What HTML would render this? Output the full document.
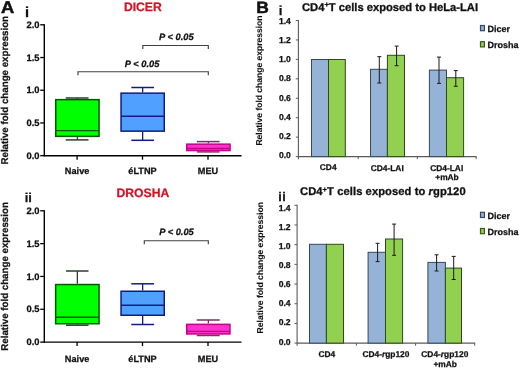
<!DOCTYPE html>
<html><head><meta charset="utf-8"><style>
html,body{margin:0;padding:0;background:#fff;}
svg{display:block;will-change:transform;}
text{font-family:"Liberation Sans", sans-serif;text-rendering:geometricPrecision;}
</style></head><body>
<svg width="520" height="369" viewBox="0 0 520 369">
<rect width="520" height="369" fill="#fff"/>
<text x="0" y="12.9" font-size="17.0" font-weight="bold" fill="#111" stroke="#111" stroke-width="0.5" transform="translate(0.9,0) scale(1.08,1)">A</text>
<text x="25.0" y="16.6" font-size="14.6" text-anchor="start" font-weight="bold" font-style="normal" fill="#111" stroke="#111" stroke-width="0.25" >i</text>
<text x="142.85" y="11.4" font-size="12.2" text-anchor="middle" font-weight="bold" font-style="normal" fill="#d21426" stroke="#d21426" stroke-width="0.25" >DICER</text>
<text transform="translate(7.6,90.25) rotate(-90)" font-size="9.9" font-weight="bold" text-anchor="middle" fill="#111" stroke="#111" stroke-width="0.25" textLength="148.6" lengthAdjust="spacingAndGlyphs">Relative fold change expression</text>
<line x1="44.3" y1="24.2" x2="44.3" y2="156.3" stroke="#000" stroke-width="1.4"/>
<line x1="43.7" y1="155.7" x2="241.5" y2="155.7" stroke="#000" stroke-width="1.4"/>
<line x1="40.2" y1="155.7" x2="44.3" y2="155.7" stroke="#000" stroke-width="1.3"/>
<text x="39.6" y="158.9" font-size="9.4" text-anchor="end" font-weight="bold" font-style="normal" fill="#111" stroke="#111" stroke-width="0.25" >0.0</text>
<line x1="40.2" y1="122.97" x2="44.3" y2="122.97" stroke="#000" stroke-width="1.3"/>
<text x="39.6" y="126.17" font-size="9.4" text-anchor="end" font-weight="bold" font-style="normal" fill="#111" stroke="#111" stroke-width="0.25" >0.5</text>
<line x1="40.2" y1="90.25" x2="44.3" y2="90.25" stroke="#000" stroke-width="1.3"/>
<text x="39.6" y="93.45" font-size="9.4" text-anchor="end" font-weight="bold" font-style="normal" fill="#111" stroke="#111" stroke-width="0.25" >1.0</text>
<line x1="40.2" y1="57.53" x2="44.3" y2="57.53" stroke="#000" stroke-width="1.3"/>
<text x="39.6" y="60.73" font-size="9.4" text-anchor="end" font-weight="bold" font-style="normal" fill="#111" stroke="#111" stroke-width="0.25" >1.5</text>
<line x1="40.2" y1="24.8" x2="44.3" y2="24.8" stroke="#000" stroke-width="1.3"/>
<text x="39.6" y="28.0" font-size="9.4" text-anchor="end" font-weight="bold" font-style="normal" fill="#111" stroke="#111" stroke-width="0.25" >2.0</text>
<line x1="77.1" y1="155.7" x2="77.1" y2="159.7" stroke="#000" stroke-width="1.3"/>
<text x="77.1" y="174.4" font-size="9.2" text-anchor="middle" font-weight="bold" font-style="normal" fill="#111" stroke="#111" stroke-width="0.25" >Naive</text>
<line x1="142.5" y1="155.7" x2="142.5" y2="159.7" stroke="#000" stroke-width="1.3"/>
<text x="142.5" y="174.4" font-size="9.2" text-anchor="middle" font-weight="bold" font-style="normal" fill="#111" stroke="#111" stroke-width="0.25" >éLTNP</text>
<line x1="208.0" y1="155.7" x2="208.0" y2="159.7" stroke="#000" stroke-width="1.3"/>
<text x="208.0" y="174.4" font-size="9.2" text-anchor="middle" font-weight="bold" font-style="normal" fill="#111" stroke="#111" stroke-width="0.25" >MEU</text>
<line x1="77.4" y1="98.0" x2="77.4" y2="98.9" stroke="#2c3f2c" stroke-width="1.3"/>
<line x1="77.4" y1="137.1" x2="77.4" y2="139.9" stroke="#2c3f2c" stroke-width="1.3"/>
<line x1="65.7" y1="98.0" x2="88.5" y2="98.0" stroke="#2c3f2c" stroke-width="1.5"/>
<line x1="65.7" y1="139.9" x2="88.5" y2="139.9" stroke="#2c3f2c" stroke-width="1.5"/>
<rect x="55.75" y="99.65" width="43.3" height="36.7" fill="#00ff00" stroke="#005a00" stroke-width="1.5"/>
<line x1="55.75" y1="130.6" x2="99.05" y2="130.6" stroke="#005a00" stroke-width="1.4"/>
<line x1="142.65" y1="87.5" x2="142.65" y2="92.4" stroke="#121c80" stroke-width="1.3"/>
<line x1="142.65" y1="131.9" x2="142.65" y2="140.3" stroke="#121c80" stroke-width="1.3"/>
<line x1="131.3" y1="87.5" x2="154.0" y2="87.5" stroke="#121c80" stroke-width="1.5"/>
<line x1="131.3" y1="140.3" x2="154.0" y2="140.3" stroke="#121c80" stroke-width="1.5"/>
<rect x="121.05" y="93.15" width="43.2" height="38.0" fill="#50a0ff" stroke="#121c80" stroke-width="1.5"/>
<line x1="121.05" y1="116.3" x2="164.25" y2="116.3" stroke="#121c80" stroke-width="1.4"/>
<line x1="208.4" y1="141.6" x2="208.4" y2="143.4" stroke="#8a2a60" stroke-width="1.3"/>
<line x1="208.4" y1="151.3" x2="208.4" y2="151.9" stroke="#8a2a60" stroke-width="1.3"/>
<line x1="196.9" y1="141.6" x2="219.6" y2="141.6" stroke="#8a2a60" stroke-width="1.5"/>
<line x1="196.9" y1="151.9" x2="219.6" y2="151.9" stroke="#8a2a60" stroke-width="1.5"/>
<rect x="186.75" y="144.15" width="43.3" height="6.4" fill="#ff33cc" stroke="#c8008c" stroke-width="1.5"/>
<line x1="186.75" y1="148.5" x2="230.05" y2="148.5" stroke="#c8008c" stroke-width="1.4"/>
<path d="M142.8,49.050000000000004 V45.45 H208.3 V49.050000000000004" fill="none" stroke="#404040" stroke-width="1.15"/>
<text x="176.3" y="40.2" font-size="9.3" text-anchor="middle" font-weight="bold" font-style="italic" fill="#111" stroke="#111" stroke-width="0.25" >P &lt; 0.05</text>
<path d="M78.0,75.3 V71.7 H208.3 V75.3" fill="none" stroke="#404040" stroke-width="1.15"/>
<text x="142.1" y="66.5" font-size="9.3" text-anchor="middle" font-weight="bold" font-style="italic" fill="#111" stroke="#111" stroke-width="0.25" >P &lt; 0.05</text>
<text x="24.7" y="202.4" font-size="12.9" text-anchor="start" font-weight="bold" font-style="normal" fill="#111" stroke="#111" stroke-width="0.25" >ii</text>
<text x="142.85" y="196.7" font-size="12.2" text-anchor="middle" font-weight="bold" font-style="normal" fill="#d21426" stroke="#d21426" stroke-width="0.25" >DROSHA</text>
<text transform="translate(7.6,276.45) rotate(-90)" font-size="9.9" font-weight="bold" text-anchor="middle" fill="#111" stroke="#111" stroke-width="0.25" textLength="148.6" lengthAdjust="spacingAndGlyphs">Relative fold change expression</text>
<line x1="44.3" y1="210.2" x2="44.3" y2="342.7" stroke="#000" stroke-width="1.4"/>
<line x1="43.7" y1="342.1" x2="241.5" y2="342.1" stroke="#000" stroke-width="1.4"/>
<line x1="40.2" y1="342.1" x2="44.3" y2="342.1" stroke="#000" stroke-width="1.3"/>
<text x="39.6" y="345.3" font-size="9.4" text-anchor="end" font-weight="bold" font-style="normal" fill="#111" stroke="#111" stroke-width="0.25" >0.0</text>
<line x1="40.2" y1="309.28" x2="44.3" y2="309.28" stroke="#000" stroke-width="1.3"/>
<text x="39.6" y="312.48" font-size="9.4" text-anchor="end" font-weight="bold" font-style="normal" fill="#111" stroke="#111" stroke-width="0.25" >0.5</text>
<line x1="40.2" y1="276.45" x2="44.3" y2="276.45" stroke="#000" stroke-width="1.3"/>
<text x="39.6" y="279.65" font-size="9.4" text-anchor="end" font-weight="bold" font-style="normal" fill="#111" stroke="#111" stroke-width="0.25" >1.0</text>
<line x1="40.2" y1="243.62" x2="44.3" y2="243.62" stroke="#000" stroke-width="1.3"/>
<text x="39.6" y="246.82" font-size="9.4" text-anchor="end" font-weight="bold" font-style="normal" fill="#111" stroke="#111" stroke-width="0.25" >1.5</text>
<line x1="40.2" y1="210.8" x2="44.3" y2="210.8" stroke="#000" stroke-width="1.3"/>
<text x="39.6" y="214.0" font-size="9.4" text-anchor="end" font-weight="bold" font-style="normal" fill="#111" stroke="#111" stroke-width="0.25" >2.0</text>
<line x1="77.1" y1="342.1" x2="77.1" y2="346.1" stroke="#000" stroke-width="1.3"/>
<text x="77.1" y="362.3" font-size="9.2" text-anchor="middle" font-weight="bold" font-style="normal" fill="#111" stroke="#111" stroke-width="0.25" >Naive</text>
<line x1="142.5" y1="342.1" x2="142.5" y2="346.1" stroke="#000" stroke-width="1.3"/>
<text x="142.5" y="362.3" font-size="9.2" text-anchor="middle" font-weight="bold" font-style="normal" fill="#111" stroke="#111" stroke-width="0.25" >éLTNP</text>
<line x1="208.0" y1="342.1" x2="208.0" y2="346.1" stroke="#000" stroke-width="1.3"/>
<text x="208.0" y="362.3" font-size="9.2" text-anchor="middle" font-weight="bold" font-style="normal" fill="#111" stroke="#111" stroke-width="0.25" >MEU</text>
<line x1="77.35" y1="271.0" x2="77.35" y2="283.8" stroke="#2c3f2c" stroke-width="1.3"/>
<line x1="77.35" y1="324.5" x2="77.35" y2="325.2" stroke="#2c3f2c" stroke-width="1.3"/>
<line x1="66.0" y1="271.0" x2="88.5" y2="271.0" stroke="#2c3f2c" stroke-width="1.5"/>
<line x1="66.0" y1="325.2" x2="88.5" y2="325.2" stroke="#2c3f2c" stroke-width="1.5"/>
<rect x="55.65" y="284.55" width="43.4" height="39.2" fill="#00ff00" stroke="#005a00" stroke-width="1.5"/>
<line x1="55.65" y1="317.2" x2="99.05" y2="317.2" stroke="#005a00" stroke-width="1.4"/>
<line x1="142.65" y1="283.8" x2="142.65" y2="290.5" stroke="#121c80" stroke-width="1.3"/>
<line x1="142.65" y1="316.0" x2="142.65" y2="324.5" stroke="#121c80" stroke-width="1.3"/>
<line x1="131.3" y1="283.8" x2="154.1" y2="283.8" stroke="#121c80" stroke-width="1.5"/>
<line x1="131.3" y1="324.5" x2="154.1" y2="324.5" stroke="#121c80" stroke-width="1.5"/>
<rect x="121.05" y="291.25" width="43.2" height="24.0" fill="#50a0ff" stroke="#121c80" stroke-width="1.5"/>
<line x1="121.05" y1="305.3" x2="164.25" y2="305.3" stroke="#121c80" stroke-width="1.4"/>
<line x1="208.35" y1="320.0" x2="208.35" y2="323.6" stroke="#8a2a60" stroke-width="1.3"/>
<line x1="208.35" y1="334.7" x2="208.35" y2="335.5" stroke="#8a2a60" stroke-width="1.3"/>
<line x1="196.7" y1="320.0" x2="219.7" y2="320.0" stroke="#8a2a60" stroke-width="1.5"/>
<line x1="196.7" y1="335.5" x2="219.7" y2="335.5" stroke="#8a2a60" stroke-width="1.5"/>
<rect x="186.75" y="324.35" width="43.2" height="9.6" fill="#ff33cc" stroke="#c8008c" stroke-width="1.5"/>
<line x1="186.75" y1="331.4" x2="229.95" y2="331.4" stroke="#c8008c" stroke-width="1.4"/>
<path d="M144.3,244.29999999999998 V240.7 H208.3 V244.29999999999998" fill="none" stroke="#404040" stroke-width="1.15"/>
<text x="176.5" y="235.0" font-size="9.3" text-anchor="middle" font-weight="bold" font-style="italic" fill="#111" stroke="#111" stroke-width="0.25" >P &lt; 0.05</text>
<text x="0" y="12.7" font-size="16.3" font-weight="bold" fill="#111" stroke="#111" stroke-width="0.5" transform="translate(256.2,0) scale(1.07,1)">B</text>
<text x="278.8" y="15.0" font-size="13.2" text-anchor="start" font-weight="bold" font-style="normal" fill="#111" stroke="#111" stroke-width="0.25" >i</text>
<text x="302.0" y="10.5" font-size="11.2" font-weight="bold" fill="#111" stroke="#111" stroke-width="0.3" letter-spacing="0">CD4<tspan font-size="7.6" dy="-3.2">+</tspan><tspan dy="3.2">T cells exposed to HeLa-LAI</tspan></text>
<text transform="translate(262.0,80.6) rotate(-90)" font-size="8.6" font-weight="bold" text-anchor="middle" fill="#111" stroke="#111" stroke-width="0.1" textLength="130" lengthAdjust="spacingAndGlyphs">Relative fold change expression</text>
<line x1="298.4" y1="20.0" x2="298.4" y2="159.2" stroke="#5a5a5a" stroke-width="1.1"/>
<line x1="298.4" y1="156.6" x2="476.6" y2="156.6" stroke="#5a5a5a" stroke-width="1.2"/>
<line x1="295.8" y1="156.6" x2="298.4" y2="156.6" stroke="#5a5a5a" stroke-width="1.0"/>
<text x="290.9" y="158.0" font-size="8.6" text-anchor="end" font-weight="bold" font-style="normal" fill="#111" stroke="#111" stroke-width="0.25" >0.0</text>
<line x1="295.8" y1="137.16" x2="298.4" y2="137.16" stroke="#5a5a5a" stroke-width="1.0"/>
<text x="290.9" y="138.86" font-size="8.6" text-anchor="end" font-weight="bold" font-style="normal" fill="#111" stroke="#111" stroke-width="0.25" >0.2</text>
<line x1="295.8" y1="117.71" x2="298.4" y2="117.71" stroke="#5a5a5a" stroke-width="1.0"/>
<text x="290.9" y="119.72" font-size="8.6" text-anchor="end" font-weight="bold" font-style="normal" fill="#111" stroke="#111" stroke-width="0.25" >0.4</text>
<line x1="295.8" y1="98.27" x2="298.4" y2="98.27" stroke="#5a5a5a" stroke-width="1.0"/>
<text x="290.9" y="100.58" font-size="8.6" text-anchor="end" font-weight="bold" font-style="normal" fill="#111" stroke="#111" stroke-width="0.25" >0.6</text>
<line x1="295.8" y1="78.83" x2="298.4" y2="78.83" stroke="#5a5a5a" stroke-width="1.0"/>
<text x="290.9" y="81.44" font-size="8.6" text-anchor="end" font-weight="bold" font-style="normal" fill="#111" stroke="#111" stroke-width="0.25" >0.8</text>
<line x1="295.8" y1="59.39" x2="298.4" y2="59.39" stroke="#5a5a5a" stroke-width="1.0"/>
<text x="290.9" y="62.3" font-size="8.6" text-anchor="end" font-weight="bold" font-style="normal" fill="#111" stroke="#111" stroke-width="0.25" >1.0</text>
<line x1="295.8" y1="39.94" x2="298.4" y2="39.94" stroke="#5a5a5a" stroke-width="1.0"/>
<text x="290.9" y="43.16" font-size="8.6" text-anchor="end" font-weight="bold" font-style="normal" fill="#111" stroke="#111" stroke-width="0.25" >1.2</text>
<line x1="295.8" y1="20.5" x2="298.4" y2="20.5" stroke="#5a5a5a" stroke-width="1.0"/>
<text x="290.9" y="24.02" font-size="8.6" text-anchor="end" font-weight="bold" font-style="normal" fill="#111" stroke="#111" stroke-width="0.25" >1.4</text>
<line x1="358.2" y1="156.6" x2="358.2" y2="159.2" stroke="#5a5a5a" stroke-width="1.0"/>
<line x1="417.3" y1="156.6" x2="417.3" y2="159.2" stroke="#5a5a5a" stroke-width="1.0"/>
<line x1="476.1" y1="156.6" x2="476.1" y2="159.2" stroke="#5a5a5a" stroke-width="1.0"/>
<rect x="311.5" y="59.5" width="17.0" height="97.1" fill="#95b3d7" stroke="#38475e" stroke-width="1.0"/>
<rect x="328.5" y="59.5" width="16.8" height="97.1" fill="#92d050" stroke="#30491c" stroke-width="1.0"/>
<rect x="370.5" y="69.3" width="16.9" height="87.3" fill="#95b3d7" stroke="#38475e" stroke-width="1.0"/>
<rect x="387.4" y="55.3" width="17.1" height="101.3" fill="#92d050" stroke="#30491c" stroke-width="1.0"/>
<rect x="429.4" y="70.1" width="17.1" height="86.5" fill="#95b3d7" stroke="#38475e" stroke-width="1.0"/>
<rect x="446.5" y="77.7" width="17.1" height="78.9" fill="#92d050" stroke="#30491c" stroke-width="1.0"/>
<line x1="379.3" y1="56.7" x2="379.3" y2="83.0" stroke="#1a1a1a" stroke-width="1.0"/>
<line x1="377.3" y1="56.7" x2="381.3" y2="56.7" stroke="#1a1a1a" stroke-width="1.0"/>
<line x1="377.3" y1="83.0" x2="381.3" y2="83.0" stroke="#1a1a1a" stroke-width="1.0"/>
<line x1="396.6" y1="46.1" x2="396.6" y2="65.7" stroke="#1a1a1a" stroke-width="1.0"/>
<line x1="394.6" y1="46.1" x2="398.6" y2="46.1" stroke="#1a1a1a" stroke-width="1.0"/>
<line x1="394.6" y1="65.7" x2="398.6" y2="65.7" stroke="#1a1a1a" stroke-width="1.0"/>
<line x1="439.0" y1="57.1" x2="439.0" y2="83.4" stroke="#1a1a1a" stroke-width="1.0"/>
<line x1="437.0" y1="57.1" x2="441.0" y2="57.1" stroke="#1a1a1a" stroke-width="1.0"/>
<line x1="437.0" y1="83.4" x2="441.0" y2="83.4" stroke="#1a1a1a" stroke-width="1.0"/>
<line x1="455.8" y1="70.6" x2="455.8" y2="86.3" stroke="#1a1a1a" stroke-width="1.0"/>
<line x1="453.8" y1="70.6" x2="457.8" y2="70.6" stroke="#1a1a1a" stroke-width="1.0"/>
<line x1="453.8" y1="86.3" x2="457.8" y2="86.3" stroke="#1a1a1a" stroke-width="1.0"/>
<text x="328.2" y="170.4" font-size="8.4" text-anchor="middle" font-weight="bold" font-style="normal" fill="#111" stroke="#111" stroke-width="0.25" >CD4</text>
<text x="387.2" y="171.2" font-size="8.4" text-anchor="middle" font-weight="bold" font-style="normal" fill="#111" stroke="#111" stroke-width="0.25" >CD4-LAI</text>
<text x="446.7" y="171.2" font-size="8.4" text-anchor="middle" font-weight="bold" font-style="normal" fill="#111" stroke="#111" stroke-width="0.25" >CD4-LAI</text>
<text x="447.0" y="180.4" font-size="8.4" text-anchor="middle" font-weight="bold" font-style="normal" fill="#111" stroke="#111" stroke-width="0.25" >+mAb</text>
<rect x="480.5" y="25.5" width="3.9" height="5.2" fill="#95b3d7" stroke="#34476a" stroke-width="1.2"/>
<text x="487.6" y="32.3" font-size="9.0" text-anchor="start" font-weight="bold" font-style="normal" fill="#111" stroke="#111" stroke-width="0.25" >Dicer</text>
<rect x="480.5" y="41.7" width="3.9" height="5.2" fill="#92d050" stroke="#3a5a1a" stroke-width="1.2"/>
<text x="487.6" y="48.1" font-size="9.0" text-anchor="start" font-weight="bold" font-style="normal" fill="#111" stroke="#111" stroke-width="0.25" >Drosha</text>
<text x="278.3" y="201.1" font-size="12.6" text-anchor="start" font-weight="bold" font-style="normal" fill="#111" stroke="#111" stroke-width="0.25" letter-spacing="0.4">ii</text>
<text x="300.0" y="195.2" font-size="11.2" font-weight="bold" fill="#111" stroke="#111" stroke-width="0.3" letter-spacing="0.07">CD4<tspan font-size="7.6" dy="-3.2">+</tspan><tspan dy="3.2">T cells exposed to </tspan><tspan font-style="italic">r</tspan>gp120</text>
<text transform="translate(262.5,267.7) rotate(-90)" font-size="8.6" font-weight="bold" text-anchor="middle" fill="#111" stroke="#111" stroke-width="0.1" textLength="131.5" lengthAdjust="spacingAndGlyphs">Relative fold change expression</text>
<line x1="297.1" y1="204.8" x2="297.1" y2="345.7" stroke="#5a5a5a" stroke-width="1.1"/>
<line x1="297.1" y1="343.1" x2="475.2" y2="343.1" stroke="#5a5a5a" stroke-width="1.2"/>
<line x1="294.5" y1="343.1" x2="297.1" y2="343.1" stroke="#5a5a5a" stroke-width="1.0"/>
<text x="290.6" y="344.6" font-size="8.6" text-anchor="end" font-weight="bold" font-style="normal" fill="#111" stroke="#111" stroke-width="0.25" >0.0</text>
<line x1="294.5" y1="323.41" x2="297.1" y2="323.41" stroke="#5a5a5a" stroke-width="1.0"/>
<text x="290.6" y="325.46" font-size="8.6" text-anchor="end" font-weight="bold" font-style="normal" fill="#111" stroke="#111" stroke-width="0.25" >0.2</text>
<line x1="294.5" y1="303.73" x2="297.1" y2="303.73" stroke="#5a5a5a" stroke-width="1.0"/>
<text x="290.6" y="306.32" font-size="8.6" text-anchor="end" font-weight="bold" font-style="normal" fill="#111" stroke="#111" stroke-width="0.25" >0.4</text>
<line x1="294.5" y1="284.04" x2="297.1" y2="284.04" stroke="#5a5a5a" stroke-width="1.0"/>
<text x="290.6" y="287.18" font-size="8.6" text-anchor="end" font-weight="bold" font-style="normal" fill="#111" stroke="#111" stroke-width="0.25" >0.6</text>
<line x1="294.5" y1="264.36" x2="297.1" y2="264.36" stroke="#5a5a5a" stroke-width="1.0"/>
<text x="290.6" y="268.04" font-size="8.6" text-anchor="end" font-weight="bold" font-style="normal" fill="#111" stroke="#111" stroke-width="0.25" >0.8</text>
<line x1="294.5" y1="244.67" x2="297.1" y2="244.67" stroke="#5a5a5a" stroke-width="1.0"/>
<text x="290.6" y="248.9" font-size="8.6" text-anchor="end" font-weight="bold" font-style="normal" fill="#111" stroke="#111" stroke-width="0.25" >1.0</text>
<line x1="294.5" y1="224.99" x2="297.1" y2="224.99" stroke="#5a5a5a" stroke-width="1.0"/>
<text x="290.6" y="229.76" font-size="8.6" text-anchor="end" font-weight="bold" font-style="normal" fill="#111" stroke="#111" stroke-width="0.25" >1.2</text>
<line x1="294.5" y1="205.3" x2="297.1" y2="205.3" stroke="#5a5a5a" stroke-width="1.0"/>
<text x="290.6" y="210.62" font-size="8.6" text-anchor="end" font-weight="bold" font-style="normal" fill="#111" stroke="#111" stroke-width="0.25" >1.4</text>
<line x1="356.4" y1="343.1" x2="356.4" y2="345.7" stroke="#5a5a5a" stroke-width="1.0"/>
<line x1="415.6" y1="343.1" x2="415.6" y2="345.7" stroke="#5a5a5a" stroke-width="1.0"/>
<line x1="474.7" y1="343.1" x2="474.7" y2="345.7" stroke="#5a5a5a" stroke-width="1.0"/>
<rect x="309.5" y="244.3" width="16.9" height="98.8" fill="#95b3d7" stroke="#38475e" stroke-width="1.0"/>
<rect x="326.4" y="244.3" width="17.1" height="98.8" fill="#92d050" stroke="#30491c" stroke-width="1.0"/>
<rect x="368.1" y="252.3" width="17.4" height="90.8" fill="#95b3d7" stroke="#38475e" stroke-width="1.0"/>
<rect x="385.5" y="239.0" width="17.1" height="104.1" fill="#92d050" stroke="#30491c" stroke-width="1.0"/>
<rect x="427.9" y="262.4" width="17.5" height="80.7" fill="#95b3d7" stroke="#38475e" stroke-width="1.0"/>
<rect x="445.4" y="268.1" width="16.1" height="75.0" fill="#92d050" stroke="#30491c" stroke-width="1.0"/>
<line x1="377.6" y1="243.3" x2="377.6" y2="261.6" stroke="#1a1a1a" stroke-width="1.0"/>
<line x1="375.6" y1="243.3" x2="379.6" y2="243.3" stroke="#1a1a1a" stroke-width="1.0"/>
<line x1="375.6" y1="261.6" x2="379.6" y2="261.6" stroke="#1a1a1a" stroke-width="1.0"/>
<line x1="394.1" y1="224.1" x2="394.1" y2="255.3" stroke="#1a1a1a" stroke-width="1.0"/>
<line x1="392.1" y1="224.1" x2="396.1" y2="224.1" stroke="#1a1a1a" stroke-width="1.0"/>
<line x1="392.1" y1="255.3" x2="396.1" y2="255.3" stroke="#1a1a1a" stroke-width="1.0"/>
<line x1="436.6" y1="254.8" x2="436.6" y2="271.0" stroke="#1a1a1a" stroke-width="1.0"/>
<line x1="434.6" y1="254.8" x2="438.6" y2="254.8" stroke="#1a1a1a" stroke-width="1.0"/>
<line x1="434.6" y1="271.0" x2="438.6" y2="271.0" stroke="#1a1a1a" stroke-width="1.0"/>
<line x1="453.7" y1="256.4" x2="453.7" y2="279.5" stroke="#1a1a1a" stroke-width="1.0"/>
<line x1="451.7" y1="256.4" x2="455.7" y2="256.4" stroke="#1a1a1a" stroke-width="1.0"/>
<line x1="451.7" y1="279.5" x2="455.7" y2="279.5" stroke="#1a1a1a" stroke-width="1.0"/>
<text x="326.8" y="357.0" font-size="8.4" text-anchor="middle" font-weight="bold" font-style="normal" fill="#111" stroke="#111" stroke-width="0.25" >CD4</text>
<text x="385.9" y="356.8" font-size="8.4" text-anchor="middle" font-weight="bold" font-style="normal" fill="#111" stroke="#111" stroke-width="0.25" >CD4-<tspan font-style="italic">r</tspan>gp120</text>
<text x="444.8" y="356.8" font-size="8.4" text-anchor="middle" font-weight="bold" font-style="normal" fill="#111" stroke="#111" stroke-width="0.25" >CD4-<tspan font-style="italic">r</tspan>gp120</text>
<text x="445.2" y="366.5" font-size="8.4" text-anchor="middle" font-weight="bold" font-style="normal" fill="#111" stroke="#111" stroke-width="0.25" >+mAb</text>
<rect x="480.5" y="212.29999999999998" width="3.9" height="5.2" fill="#95b3d7" stroke="#34476a" stroke-width="1.2"/>
<text x="487.6" y="219.1" font-size="9.0" text-anchor="start" font-weight="bold" font-style="normal" fill="#111" stroke="#111" stroke-width="0.25" >Dicer</text>
<rect x="480.5" y="228.5" width="3.9" height="5.2" fill="#92d050" stroke="#3a5a1a" stroke-width="1.2"/>
<text x="487.6" y="234.9" font-size="9.0" text-anchor="start" font-weight="bold" font-style="normal" fill="#111" stroke="#111" stroke-width="0.25" >Drosha</text>
</svg>
</body></html>
